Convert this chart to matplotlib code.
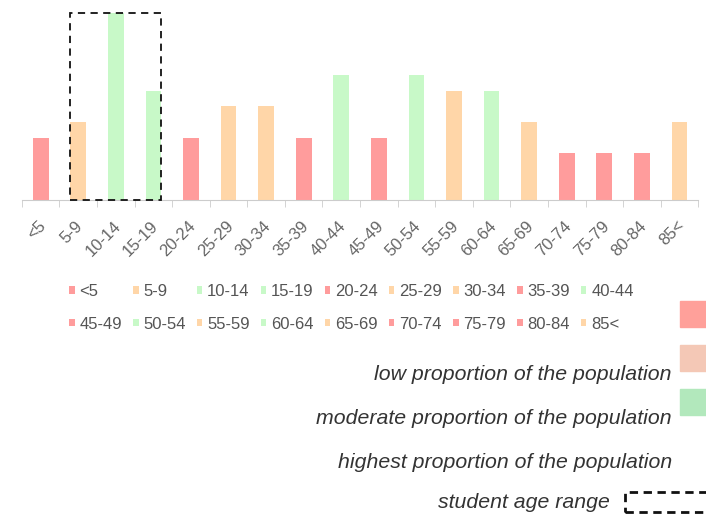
import matplotlib.pyplot as plt
from matplotlib.patches import Rectangle
from matplotlib.transforms import ScaledTranslation

plt.rcParams['font.family'] = ['Liberation Sans', 'DejaVu Sans']

# age groups and their share of the population (relative units)
age_groups = ["<5", "5-9", "10-14", "15-19", "20-24", "25-29", "30-34", "35-39", "40-44",
              "45-49", "50-54", "55-59", "60-64", "65-69", "70-74", "75-79", "80-84", "85<"]
values = [4, 5, 12, 7, 4, 6, 6, 4, 8, 4, 8, 7, 7, 5, 3, 3, 3, 5]
levels = ["low", "mid", "high", "high", "low", "mid", "mid", "low", "high",
          "low", "high", "mid", "high", "mid", "low", "low", "low", "mid"]

bar_colors = {"low": "#ff9c9c", "mid": "#ffd6a8", "high": "#c8f9c8"}
key_colors = ["#ffa09a", "#f4c8b6", "#b2e8bc"]
key_texts = ["low proportion of the population",
             "moderate proportion of the population",
             "highest proportion of the population"]
student_groups = (1, 3)

fig = plt.figure(figsize=(7.06, 5.18), dpi=100)
ax = fig.add_axes([0.031, 0.614, 0.958, 0.361])

x = list(range(len(age_groups)))
width = 0.42
bars = []
for i, (name, v, lv) in enumerate(zip(age_groups, values, levels)):
    bars.append(ax.bar(i, v, width=width, color=bar_colors[lv], label=name))

ax.set_xlim(-0.5, len(age_groups) - 0.5)
ax.set_ylim(0, max(values))

# student age range box
a, b = student_groups
ax.add_patch(Rectangle((a - width / 2, 0), (b - a) + width, max(values),
                       fill=False, ls=(0, (4, 3)), lw=1.3, ec="#111111",
                       clip_on=False, zorder=5))

for s in ["top", "right", "left"]:
    ax.spines[s].set_visible(False)
ax.spines["bottom"].set_color("#cccccc")
ax.set_yticks([])
ax.set_xticks(x)
ax.set_xticklabels(age_groups, rotation=45, ha="right", rotation_mode="anchor",
                   color="#666666", fontsize=12)
ax.tick_params(axis="x", length=0, pad=13)
shift = ScaledTranslation(-3 / 100, 0, fig.dpi_scale_trans)
for lab in ax.get_xticklabels():
    lab.set_transform(lab.get_transform() + shift)
ax.set_xticks([i - 0.5 for i in range(len(age_groups) + 1)], minor=True)
ax.tick_params(axis="x", which="minor", length=5, color="#cccccc")

# legend filled row by row (matplotlib fills columns first)
ncol = 9
order = []
for c in range(ncol):
    order += [c, c + ncol]
handles = [bars[k] for k in order]
labels = [age_groups[k] for k in order]
leg = ax.legend(handles, labels, ncol=ncol, loc="upper left",
                bbox_to_anchor=(0.070, -0.45), frameon=False, fontsize=12,
                handlelength=0.32, handleheight=0.32, handletextpad=0.28,
                columnspacing=0.68, labelspacing=1.05, borderaxespad=0,
                borderpad=0)
for t in leg.get_texts():
    t.set_color("#555555")

# colour key on the right
for i, c in enumerate(key_colors):
    y0 = 1 - (301 + i * 44) / 518
    fig.patches.append(Rectangle((680 / 706, y0 - 26 / 518), 30 / 706, 26 / 518,
                                 transform=fig.transFigure, color=c, figure=fig))

for i, t in enumerate(key_texts):
    fig.text(672 / 706, 1 - (375 + i * 44) / 518, t, ha="right", va="center",
             style="italic", fontsize=15.3, color="#333333")

fig.text(610 / 706, 1 - 502 / 518, "student age range", ha="right", va="center",
         style="italic", fontsize=15.3, color="#333333")
fig.patches.append(Rectangle((625 / 706, 1 - 512 / 518), 90 / 706, 20 / 518,
                             transform=fig.transFigure, fill=False, ls=(0, (3, 2)),
                             lw=2, ec="#111111", figure=fig))

fig.savefig("out.png", dpi=100)
